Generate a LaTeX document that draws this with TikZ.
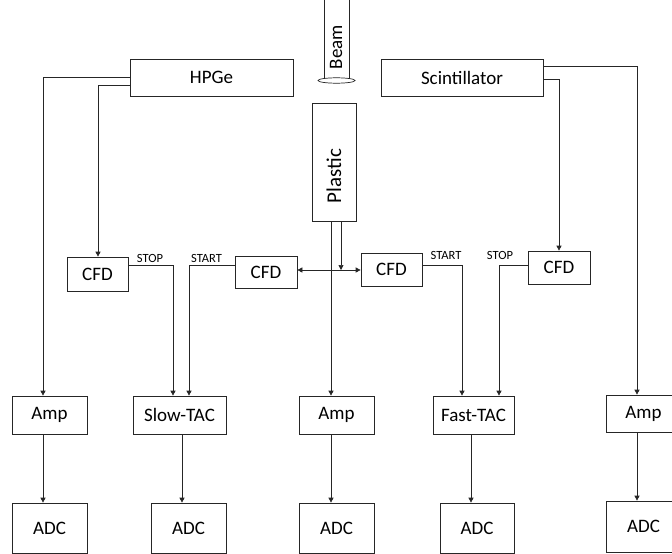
\documentclass[tikz,border=0pt]{standalone}
\usepackage{fontspec}
\setmainfont{Carlito}
\usetikzlibrary{arrows.meta}
\tikzset{
  box/.style={draw=black!85, line width=0.7pt, inner sep=0pt, anchor=center, font=\fontsize{19}{22}\selectfont},
  lbl/.style={inner sep=0pt, font=\fontsize{12.5}{14}\selectfont},
  wire/.style={draw=black!85, line width=0.7pt},
  arr/.style={wire, -{Triangle[length=5pt,width=5pt]}},
  darr/.style={wire, {Triangle[length=5pt,width=5pt]}-{Triangle[length=5pt,width=5pt]}}
}
\begin{document}
\begin{tikzpicture}[x=1pt,y=-1pt]
\useasboundingbox (0,0) rectangle (672,554);
% beam
\draw[wire] (324,0) -- (324,79);
\draw[wire] (349,0) -- (349,79);
\draw[wire] (336.5,80.5) ellipse [x radius=18.5, y radius=2.7];
\node[lbl, rotate=90, font=\fontsize{19}{22}\selectfont] (beam) at (336,47) {Beam};
% detectors
\node[box, minimum width=163, minimum height=37] (hpge) at (211.5,77.5) {HPGe};
\node[box, minimum width=162, minimum height=37] (scint) at (462,77.5) {Scintillator};
\node[box, minimum width=44, minimum height=118] (plastic) at (334,162) {};
\node[rotate=90, inner sep=0pt, font=\fontsize{21}{23}\selectfont] (plastictext) at (334,176) {Plastic};
% CFDs
\node[box, minimum width=61, minimum height=34] (cfdA) at (97.5,274) {CFD};
\node[box, minimum width=62, minimum height=32] (cfdB) at (266,272) {CFD};
\node[box, minimum width=61, minimum height=33] (cfdC) at (391.5,269.5) {CFD};
\node[box, minimum width=62, minimum height=33] (cfdD) at (559,267.5) {CFD};
% Amps / TACs
\node[box, minimum width=75, minimum height=38] (amp1) at (49.5,415) {Amp};
\node[box, minimum width=93, minimum height=38] (stac) at (179.5,415) {Slow-TAC};
\node[box, minimum width=75, minimum height=38] (amp2) at (336.5,415) {Amp};
\node[box, minimum width=81, minimum height=38] (ftac) at (473.5,415) {Fast-TAC};
\node[box, minimum width=75, minimum height=37] (amp3) at (643.5,413.5) {Amp};
% ADCs
\node[box, minimum width=75, minimum height=50] (adc1) at (49.5,528) {ADC};
\node[box, minimum width=75, minimum height=50] (adc2) at (188.5,528) {ADC};
\node[box, minimum width=75, minimum height=50] (adc3) at (336.5,528) {ADC};
\node[box, minimum width=74, minimum height=50] (adc4) at (477,528) {ADC};
\node[box, minimum width=75, minimum height=51] (adc5) at (643.5,526.5) {ADC};
% turn points
\coordinate (h1) at (43,77);
\coordinate (h2) at (98,85);
\coordinate (s1) at (637,66);
\coordinate (s2) at (559,79);
\coordinate (tA) at (173,265);
\coordinate (tB) at (189,265);
\coordinate (tC) at (462,265);
\coordinate (tD) at (499,265);
\coordinate (pj) at (341,270);
% HPGe outputs
\draw[arr] (hpge.west |- h1) -- (h1) -- (h1 |- amp1.north);
\draw[arr] (hpge.west |- h2) -- (h2) -- (h2 |- cfdA.north);
% Scintillator outputs
\draw[arr] (scint.east |- s1) -- (s1) -- (s1 |- amp3.north);
\draw[arr] (scint.east |- s2) -- (s2) -- (s2 |- cfdD.north);
% Plastic outputs
\draw[arr] (plastic.south -| 331,0) -- (amp2.north -| 331,0);
\draw[arr] (plastic.south -| pj) -- (pj);
\draw[darr] (cfdB.east |- pj) -- (cfdC.west |- pj);
% CFD to TACs
\draw[arr] (cfdA.east |- tA) -- (tA) -- (tA |- stac.north);
\draw[arr] (cfdB.west |- tB) -- (tB) -- (tB |- stac.north);
\draw[arr] (cfdC.east |- tC) -- (tC) -- (tC |- ftac.north);
\draw[arr] (cfdD.west |- tD) -- (tD) -- (tD |- ftac.north);
\node[lbl] (stopA) at (150,258) {STOP};
\node[lbl] (startB) at (206.5,258) {START};
\node[lbl] (startC) at (446,255) {START};
\node[lbl] (stopD) at (500,255) {STOP};
% to ADCs
\draw[arr] (amp1.south -| h1) -- (adc1.north -| h1);
\draw[arr] (stac.south -| 182,0) -- (adc2.north -| 182,0);
\draw[arr] (amp2.south -| 331,0) -- (adc3.north -| 331,0);
\draw[arr] (ftac.south -| 471,0) -- (adc4.north -| 471,0);
\draw[arr] (amp3.south -| s1) -- (adc5.north -| s1);
\end{tikzpicture}
\end{document}
